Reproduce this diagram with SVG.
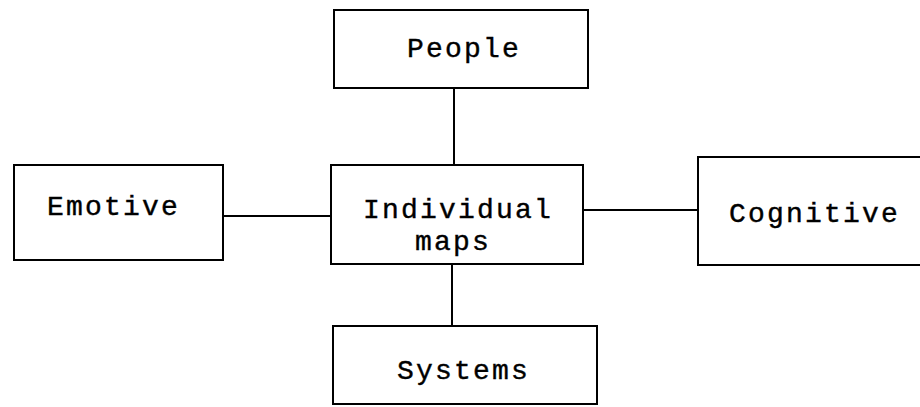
<svg xmlns="http://www.w3.org/2000/svg" width="920" height="407" viewBox="0 0 920 407">
<style>
.box{fill:#fff;stroke:#000;stroke-width:2}
.lbl{font-family:"Liberation Mono","DejaVu Sans Mono",monospace;font-size:28px;letter-spacing:2.2px;fill:#000;stroke:#000;stroke-width:0.4}
.con{stroke:#000;stroke-width:2;fill:none}
</style>
<rect width="920" height="407" fill="#fff"/>
<g id="connectors">
<line class="con" x1="454" y1="88" x2="454" y2="165"/>
<line class="con" x1="223" y1="216" x2="331" y2="216"/>
<line class="con" x1="583" y1="210" x2="698" y2="210"/>
<line class="con" x1="452" y1="264" x2="452" y2="326"/>
</g>
<g id="people">
<rect class="box" x="334" y="10" width="254" height="78"/>
<text class="lbl" x="407" y="57">People</text>
</g>
<g id="emotive">
<rect class="box" x="14" y="165" width="209" height="95"/>
<text class="lbl" x="47" y="215">Emotive</text>
</g>
<g id="individual">
<rect class="box" x="331" y="165" width="252" height="99"/>
<text class="lbl" x="363" y="218">Individual</text>
<text class="lbl" x="415" y="250">maps</text>
</g>
<g id="cognitive">
<rect class="box" x="698" y="157" width="230" height="108"/>
<text class="lbl" x="729" y="222">Cognitive</text>
</g>
<g id="systems">
<rect class="box" x="333" y="326" width="264" height="78"/>
<text class="lbl" x="397" y="379">Systems</text>
</g>
</svg>
